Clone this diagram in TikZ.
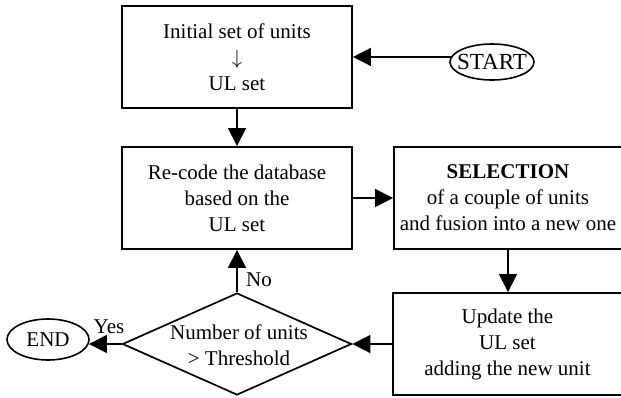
\documentclass[tikz,border=0pt]{standalone}
\usepackage{fontspec}
\setmainfont{Liberation Serif}
\usetikzlibrary{arrows.meta,shapes.geometric}
\tikzset{
  box/.style={draw, line width=1.9pt, rectangle, inner sep=0pt, align=center},
  oval/.style={draw, line width=1.6pt, ellipse, inner sep=0pt},
  arr/.style={line width=1.5pt, -{Triangle[length=18pt,width=18pt]}},
  lbl/.style={inner sep=0pt}
}
\begin{document}
\begin{tikzpicture}[x=1pt,y=-1pt,font=\fontsize{21}{26}\selectfont]
\useasboundingbox (0,0) rectangle (621,397);
\node[box, minimum width=230pt, minimum height=102pt] (b1) at (237,57) {Initial set of units\\\(\downarrow\)\\UL set};
\node[box, minimum width=230pt, minimum height=102pt] (b2) at (237,198) {Re-code the database\\based on the\\UL set};
\node[box, minimum width=228pt, minimum height=102pt] (b3) at (508,198) {\textbf{SELECTION}\\of a couple of units\\and fusion into a new one};
\node[box, minimum width=229pt, minimum height=102pt] (b4) at (507.5,344) {Update the\\UL set\\adding the new unit};
\node[draw, line width=1.7pt, diamond, inner sep=0pt, minimum width=229pt, minimum height=102pt] (dia) at (237,344) {};
\node[lbl, align=center] (diatext) at (239,345) {Number of units\\> Threshold};
\node[oval, minimum width=84pt, minimum height=36pt] (start) at (492,62) {\makebox[0pt]{\fontsize{23}{26}\selectfont START}};
\node[oval, minimum width=82pt, minimum height=41pt] (end) at (48,339.5) {\makebox[0pt]{END}};
\node[lbl] (yes) at (109,327) {Yes};
\node[lbl] (no) at (259,280) {No};
\draw[arr] (start.173) -- (start.173 -| b1.east);
\draw[arr] (b1.south) -- (b2.north);
\draw[arr] (b2.east) -- (b3.west);
\draw[arr] (b3.south) -- (b3.south |- b4.north);
\draw[arr] (b4.west) -- (dia.east);
\draw[arr] (dia.north) -- (b2.south);
\draw[arr] (dia.west) -- (dia.west -| end.-6);
\end{tikzpicture}
\end{document}
